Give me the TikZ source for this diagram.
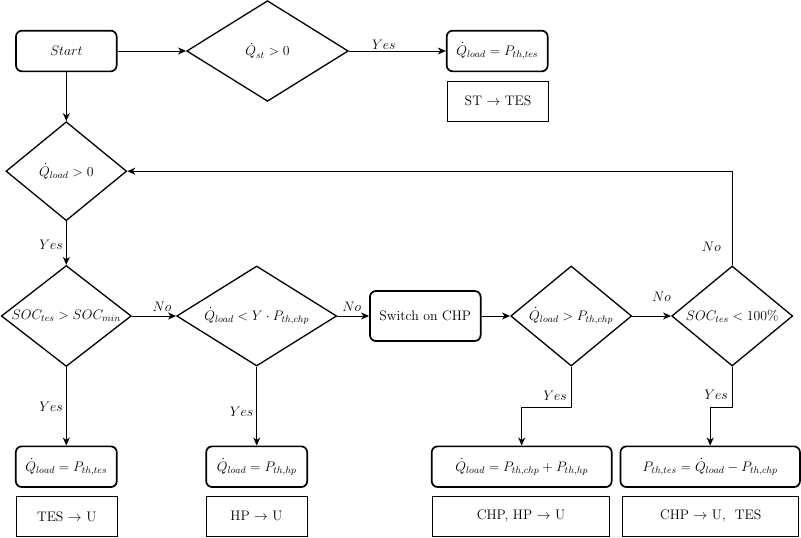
\documentclass[tikz,border=0pt]{standalone}
\usepackage{fix-cm}
\usepackage{fontspec}
\usetikzlibrary{shapes.geometric,arrows.meta}
\begin{document}
\begin{tikzpicture}[x=1pt,y=-1pt,
  every node/.style={font=\fontsize{13.8}{16}\selectfont},
  action/.style={draw, rounded corners=6pt, line width=1.7pt, minimum width=#1, minimum height=40.7pt, inner sep=0pt},
  note/.style={draw, line width=0.8pt, minimum width=#1, minimum height=40pt, inner sep=0pt},
  test/.style 2 args={draw, diamond, line width=1.3pt, minimum width=#1, minimum height=#2, inner sep=0pt},
  link/.style={line width=0.9pt, -{Stealth[length=8pt,width=7pt,inset=2.5pt]}},
  lbl/.style={inner sep=0pt}
]
\useasboundingbox (0,0) rectangle (801,538);

% top row
\node[action=100.7pt] (start) at (66.3,51) {$Start$};
\node[test={161.6pt}{100.7pt}] (qst) at (267.5,51) {\makebox[0pt]{$\dot{Q}_{st} > 0$}};
\node[action=101pt] (b0) at (497.2,51) {$\dot{Q}_{load} = P_{th,tes}$};
\node[note=100.6pt] (r0) at (498,101) {ST $\rightarrow$ TES};

% load check
\node[test={120.7pt}{99pt}] (qload) at (66.3,171.2) {\makebox[0pt]{$\dot{Q}_{load} > 0$}};

% middle row
\node[test={130pt}{101pt}] (soc) at (66.3,316) {\makebox[0pt]{$SOC_{tes} > SOC_{min}$}};
\node[test={160pt}{100pt}] (qy) at (256.7,316) {\makebox[0pt]{$\dot{Q}_{load} < Y \cdot P_{th,chp}$}};
\node[action=110.7pt, minimum height=50pt] (sw) at (425.3,316) {Switch on CHP};
\node[test={121pt}{100pt}] (qchp) at (571.2,316) {\makebox[0pt]{$\dot{Q}_{load} > P_{th,chp}$}};
\node[test={121pt}{100pt}] (soc100) at (732.2,316) {\makebox[0pt]{$SOC_{tes} < 100\%$}};

% bottom row
\node[action=101pt] (b1) at (66.3,466.7) {$\dot{Q}_{load} = P_{th,tes}$};
\node[note=101.3pt] (r1) at (66.7,516.3) {TES $\rightarrow$ U};
\node[action=101pt] (b2) at (256.7,466.7) {$\dot{Q}_{load} = P_{th,hp}$};
\node[note=101pt] (r2) at (256.5,516.3) {HP $\rightarrow$ U};
\node[action=180pt] (b3) at (521.7,466.7) {$\dot{Q}_{load} = P_{th,chp} + P_{th,hp}$};
\node[note=176.6pt] (r3) at (521,516) {CHP, HP $\rightarrow$ U};
\node[action=179.5pt] (b4) at (710.2,466.7) {$P_{th,tes} = \dot{Q}_{load} - P_{th,chp}$};
\node[note=176pt] (r4) at (710.7,516) {CHP $\rightarrow$ U,~ TES};

% connectors
\draw[link] (start) -- (qst);
\draw[link] (qst) -- node[lbl, above=1pt, pos=0.36] {$Yes$} (b0);
\draw[link] (start) -- (qload);
\draw[link] (qload) -- node[lbl, left=3pt, pos=0.55] {$Yes$} (soc);
\draw[link] (soc) -- node[lbl, above=4pt, pos=0.68] {$No$} (qy);
\draw[link] (qy) -- node[lbl, above=4pt, pos=0.45] {$No$} (sw);
\draw[link] (sw) -- (qchp);
\draw[link] (qchp) -- node[lbl, above=14pt, pos=0.75] {$No$} (soc100);
\draw[link] (soc100.north) |- node[lbl, left=11pt, pos=0.1] {$No$} (qload.east);
\draw[link] (soc) -- node[lbl, left=3pt, pos=0.5] {$Yes$} (b1);
\draw[link] (qy) -- node[lbl, left=3pt, pos=0.57] {$Yes$} (b2);
\draw[link] (qchp.south) -- node[lbl, left=4pt, pos=0.7] {$Yes$} ++(0,41) -| (b3.north);
\draw[link] (soc100.south) -- node[lbl, left=4pt, pos=0.7] {$Yes$} ++(0,40.5) -| (b4.north);
\end{tikzpicture}
\end{document}
